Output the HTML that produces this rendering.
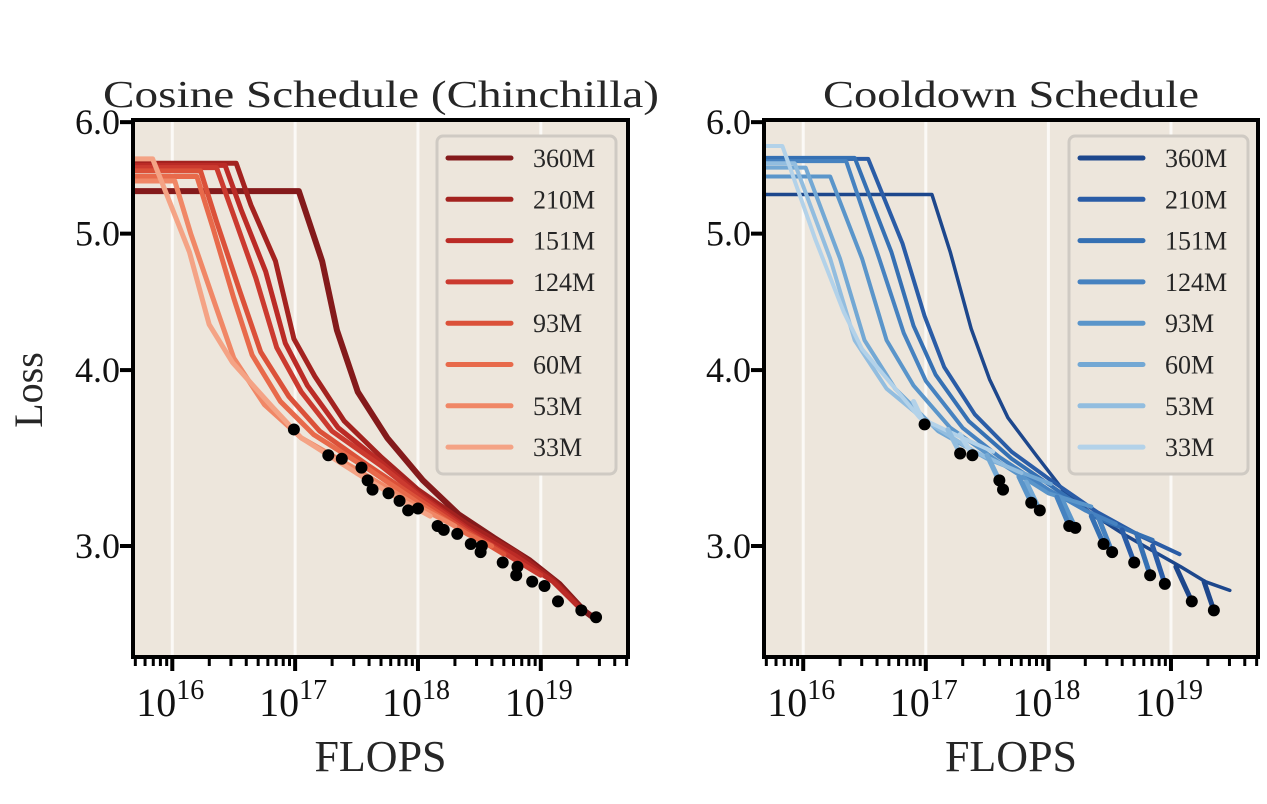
<!DOCTYPE html>
<html><head><meta charset="utf-8"><style>
html,body{margin:0;padding:0;background:#fff;}
svg{display:block;font-family:"Liberation Serif",serif;}
</style></head><body>
<svg id="chart" width="1267" height="804" viewBox="0 0 1267 804" xmlns="http://www.w3.org/2000/svg"></svg>
<script>
const models = ["360M","210M","151M","124M","93M","60M","53M","33M"];
const redColors = ["#841a1b","#a3221f","#bb2b26","#cb3a2f","#db5139","#e86a4b","#f08766","#f4a385"];
const blueColors = ["#1d478c","#2a5ca6","#3570b3","#4682c0","#5a95ca","#73a8d4","#92bddf","#b3d2e9"];
const yTicks = [3.0,4.0,5.0,6.0];
const yTickLabels = ["3.0","4.0","5.0","6.0"];
const xTickExps = [16,17,18,19];
// left: cosine curves, [log10 flops, loss]
const cosine360 = [[15.68,5.36],[17.03,5.36],[17.22,4.78],[17.34,4.27],[17.51,3.86],[17.75,3.58],[18.04,3.34],[18.33,3.16],[18.62,3.04],[18.91,2.93],[19.15,2.82],[19.35,2.70],[19.45,2.66]];
const cosine210 = [[15.68,5.61],[16.52,5.61],[16.64,5.24],[16.84,4.78],[16.99,4.21],[17.16,3.96],[17.40,3.68],[17.7,3.47],[18.0,3.29],[18.4,3.11],[18.8,2.97],[19.1,2.84],[19.35,2.70]];
const cosine151 = [[15.68,5.59],[16.43,5.59],[16.56,5.20],[16.76,4.70],[16.92,4.18],[17.1,3.90],[17.35,3.64],[17.7,3.44],[18.0,3.27],[18.4,3.09],[18.8,2.95],[19.1,2.83],[19.3,2.72]];
const cosine124 = [[15.68,5.57],[16.36,5.57],[16.5,5.15],[16.68,4.65],[16.85,4.15],[17.05,3.86],[17.3,3.62],[17.7,3.42],[18.0,3.26],[18.4,3.08],[18.8,2.93],[19.0,2.86]];
const cosine93 = [[15.68,5.54],[16.23,5.54],[16.36,5.10],[16.55,4.55],[16.72,4.12],[16.95,3.83],[17.2,3.62],[17.6,3.42],[18.0,3.24],[18.4,3.07],[18.7,2.96]];
const cosine60 = [[15.68,5.49],[16.20,5.49],[16.33,5.05],[16.5,4.50],[16.65,4.10],[16.88,3.80],[17.15,3.60],[17.6,3.40],[18.0,3.22],[18.4,3.06],[18.6,3.00]];
const cosine53 = [[15.68,5.45],[16.02,5.45],[16.15,5.0],[16.35,4.45],[16.5,4.08],[16.75,3.78],[17.05,3.58],[17.5,3.40],[18.0,3.20],[18.3,3.10]];
const cosine33 = [[15.68,5.65],[15.84,5.65],[16.14,4.85],[16.30,4.31],[16.49,4.05],[16.81,3.77],[17.05,3.58],[17.5,3.38],[17.9,3.22],[18.1,3.15]];
const cosineDotsX = [16.99,17.27,17.38,17.54,17.59,17.63,17.76,17.85,17.92,18.00,18.16,18.21,18.32,18.43,18.52,18.51,18.69,18.81,18.80,18.93,19.03,19.14,19.33,19.45];
const cosineDotsY = [3.63,3.48,3.46,3.41,3.34,3.29,3.27,3.23,3.18,3.19,3.10,3.08,3.06,3.01,3.00,2.97,2.92,2.90,2.86,2.83,2.81,2.74,2.70,2.67];
// right: constant-LR curves
const cool360 = [[15.68,5.33],[17.05,5.33],[17.20,4.85],[17.37,4.28],[17.52,3.94],[17.67,3.70],[17.90,3.48],[18.14,3.27],[18.36,3.16],[18.61,3.06],[18.81,2.99],[19.08,2.90],[19.28,2.83],[19.48,2.79]];
const cool210 = [[15.68,5.65],[16.53,5.65],[16.81,4.92],[16.99,4.37],[17.15,4.02],[17.4,3.72],[17.7,3.50],[18.0,3.35],[18.4,3.17],[18.75,3.05],[19.07,2.96]];
const cool151 = [[15.68,5.66],[16.42,5.66],[16.72,4.85],[16.9,4.30],[17.08,3.97],[17.35,3.68],[17.7,3.46],[18.0,3.32],[18.4,3.14],[18.85,3.03]];
const cool124 = [[15.68,5.63],[16.35,5.63],[16.62,4.80],[16.82,4.25],[17.0,3.93],[17.3,3.64],[17.6,3.47],[18.0,3.29],[18.3,3.18],[18.55,3.11]];
const cool93 = [[15.68,5.49],[16.22,5.49],[16.48,4.80],[16.68,4.20],[16.9,3.90],[17.2,3.64],[17.6,3.44],[18.0,3.27],[18.35,3.20]];
const cool60 = [[15.68,5.57],[16.02,5.57],[16.30,4.80],[16.50,4.20],[16.75,3.88],[17.1,3.62],[17.5,3.46],[18.02,3.32]];
const cool53 = [[15.68,5.61],[15.93,5.61],[16.22,4.80],[16.42,4.20],[16.68,3.88],[17.0,3.68],[17.4,3.50],[17.78,3.38]];
const cool33 = [[15.68,5.77],[15.83,5.77],[16.1,4.95],[16.33,4.40],[16.48,4.14],[16.95,3.70],[17.3,3.58],[17.55,3.50]];
// cooldown branches: [modelIndex, startX, startLoss, endX, endLoss]
const cooldownBranches = [[7,16.90,3.80,16.99,3.66],[7,17.28,3.60,17.38,3.48],[6,17.18,3.63,17.28,3.49],[6,17.52,3.45,17.63,3.29],[5,17.50,3.48,17.60,3.34],[5,17.82,3.33,17.93,3.18],[4,17.76,3.36,17.86,3.22],[4,18.11,3.24,18.22,3.09],[3,18.07,3.25,18.17,3.10],[3,18.41,3.14,18.52,2.97],[2,18.35,3.15,18.45,3.01],[2,18.72,3.06,18.83,2.86],[1,18.60,3.08,18.70,2.92],[1,18.85,3.00,18.95,2.82],[0,19.04,2.90,19.17,2.74],[0,19.27,2.83,19.35,2.70]];
const coolDotsX = [16.99,17.28,17.38,17.60,17.63,17.86,17.93,18.17,18.22,18.45,18.52,18.70,18.83,18.95,19.17,19.35];
const coolDotsY = [3.66,3.49,3.48,3.34,3.29,3.22,3.18,3.10,3.09,3.01,2.97,2.92,2.86,2.82,2.74,2.70];

const NS="http://www.w3.org/2000/svg";
const svg=document.getElementById('chart');
function mk(tag,attrs,parent){const e=document.createElementNS(NS,tag);for(const k in attrs)e.setAttribute(k,attrs[k]);(parent||svg).appendChild(e);return e;}
const X0=15.68,X1=19.71,YT=120,YB=657;
function yScale(v){return 546-1408*(Math.log10(v)-Math.log10(3));}
function makeX(left,right){return e=>left+(e-X0)/(X1-X0)*(right-left);}

function panel(cfg){
  const g=mk('g',{});
  
  
  const L=cfg.left,R=cfg.right,xs=makeX(L,R);
  const bg=mk('rect',{x:L,y:YT,width:R-L,height:YB-YT,fill:'#ede6dc'},g);
  
  
  xTickExps.forEach(e=>{const gl=mk('line',{x1:xs(e),x2:xs(e),y1:YT,y2:YB,stroke:'#fbf9f6','stroke-width':3},g);
    
    });
  const defsId='clip'+cfg.name;
  const cp=mk('clipPath',{id:defsId},g);mk('rect',{x:L,y:YT,width:R-L,height:YB-YT},cp);
  const lines=mk('g',{'clip-path':'url(#'+defsId+')'},g);
  cfg.curves.forEach((c,i)=>{
    const p=mk('polyline',{points:c.map(d=>xs(d[0])+','+yScale(d[1])).join(' '),fill:'none',stroke:cfg.colors[i],'stroke-width':cfg.widths[i],'stroke-linejoin':'round','stroke-linecap':'round'},lines);
    
    
  });
  (cfg.branches||[]).forEach(b=>{
    const p=mk('line',{x1:xs(b[1]),y1:yScale(b[2]),x2:xs(b[3]),y2:yScale(b[4]),stroke:cfg.colors[b[0]],'stroke-width':5,'stroke-linecap':'round'},lines);
    
    
  });
  cfg.dotsX.forEach((dx,i)=>{
    const c=mk('circle',{cx:xs(dx),cy:yScale(cfg.dotsY[i]),r:6,fill:'#000'},g);
    
    
  });
  const lg=mk('g',{},g);
  
  
  mk('rect',{x:cfg.legX,y:136,width:179,height:338,rx:6,fill:'#ede6dc',stroke:'#cfcac3','stroke-width':3},lg);
  models.forEach((m,i)=>{
    const y=158+i*41.3;
    const ln=mk('line',{x1:cfg.legX+11,x2:cfg.legX+74,y1:y,y2:y,stroke:cfg.colors[i],'stroke-width':5,'stroke-linecap':'round'},lg);
    
    
    const t=mk('text',{x:cfg.legX+96,y:y+9,'font-size':26,fill:'#262626'},lg);t.textContent=m;
    
    
  });
  const sp=mk('rect',{x:L,y:YT,width:R-L,height:YB-YT,fill:'none',stroke:'#000','stroke-width':4},g);
  
  
  for(let e=15;e<=19;e++){for(let k=1;k<10;k++){const v=e+Math.log10(k);if(v<X0||v>X1)continue;
    const major=k===1;mk('line',{x1:xs(v),x2:xs(v),y1:YB,y2:YB+(major?14:9),stroke:'#000','stroke-width':major?4:3},g);}}
  xTickExps.forEach(e=>{const t=mk('text',{x:xs(e)-2,y:716,'font-size':40,'text-anchor':'middle',fill:'#111'},g);
    
    
    t.innerHTML='10<tspan dy="-17" font-size="28">'+e+'</tspan>';});
  yTicks.forEach((v,i)=>{mk('line',{x1:L-13,x2:L,y1:yScale(v),y2:yScale(v),stroke:'#000','stroke-width':4},g);
    const t=mk('text',{x:L-13,y:yScale(v)+12,'font-size':36,'text-anchor':'end',fill:'#111'},g);t.textContent=yTickLabels[i];
    
    });
  const xt=mk('text',{x:(L+R)/2,y:771,'font-size':44,'text-anchor':'middle',fill:'#262626'},g);xt.textContent='FLOPS';
  
  
  const tt=mk('text',{x:cfg.titleX,y:107,'font-size':38,'text-anchor':'middle',fill:'#262626',textLength:cfg.titleLen,lengthAdjust:'spacingAndGlyphs'},g);tt.textContent=cfg.title;
  
  
}
panel({name:'cosine-panel',left:133,right:628,title:'Cosine Schedule (Chinchilla)',titleX:381,titleLen:556,
  curves:[cosine360,cosine210,cosine151,cosine124,cosine93,cosine60,cosine53,cosine33],colors:redColors,widths:[6,5,5,5,5,5,5,5],
  dotsX:cosineDotsX,dotsY:cosineDotsY,legX:437});
panel({name:'cooldown-panel',left:764,right:1258,title:'Cooldown Schedule',titleX:1011,titleLen:376,
  curves:[cool360,cool210,cool151,cool124,cool93,cool60,cool53,cool33],colors:blueColors,widths:[3.5,4,4,4,4,4,4,4],
  branches:cooldownBranches,dotsX:coolDotsX,dotsY:coolDotsY,legX:1069});
const yl=mk('text',{x:0,y:0,'font-size':40,'text-anchor':'middle',fill:'#262626',transform:'translate(42,390) rotate(-90)'});
yl.textContent='Loss';


</script>
</body></html>
